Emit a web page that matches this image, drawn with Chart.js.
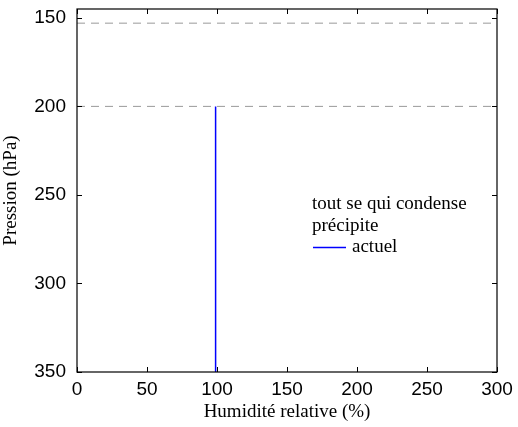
<!DOCTYPE html>
<html><head><meta charset="utf-8">
<script src="https://cdn.jsdelivr.net/npm/chart.js@4/dist/chart.umd.min.js"></script>
<style>html,body{margin:0;padding:0;background:#fff}#w{width:518px;height:427px}</style>
</head><body><div id="w"><canvas id="c" width="518" height="427"></canvas></div>
<script>
const xTicks = [0, 50, 100, 150, 200, 250, 300];
const yTicks = [150, 200, 250, 300, 350];
const actuelX = [99, 99];
const actuelP = [200, 350];
const dashedP = [153, 200];
const dashedX = [0, 300];
const legendLines = ['tout se qui condense', 'précipite'];
const legendLabel = 'actuel';

const datasets = [{
  label: legendLabel,
  data: actuelX.map((x, i) => ({x: x, y: actuelP[i]})),
  showLine: true, borderColor: '#0000ff', borderWidth: 1.5, pointRadius: 0, fill: false
}];
dashedP.forEach(p => datasets.push({
  label: 'd' + p,
  data: dashedX.map(x => ({x: x, y: p})),
  showLine: true, borderColor: '#999999', borderWidth: 1, borderDash: [8, 6], pointRadius: 0, fill: false
}));

const framePlugin = {
  id: 'frame',
  afterDatasetsDraw(chart) {
    const {ctx, chartArea: a, scales: {x, y}} = chart;
    ctx.save();
    ctx.strokeStyle = '#000'; ctx.lineWidth = 1.2;
    ctx.strokeRect(a.left, a.top, a.right - a.left, a.bottom - a.top);
    ctx.lineWidth = 1;
    const L = 5;
    xTicks.forEach(v => {
      const px = Math.round(x.getPixelForValue(v)) + 0.5;
      ctx.beginPath(); ctx.moveTo(px, a.bottom); ctx.lineTo(px, a.bottom - L);
      ctx.moveTo(px, a.top); ctx.lineTo(px, a.top + L); ctx.stroke();
    });
    yTicks.forEach(v => {
      const py = Math.round(y.getPixelForValue(v)) + 0.5;
      ctx.beginPath(); ctx.moveTo(a.left, py); ctx.lineTo(a.left + L, py);
      ctx.moveTo(a.right, py); ctx.lineTo(a.right - L, py); ctx.stroke();
    });
    // legend
    ctx.fillStyle = '#000';
    ctx.font = '19px "Liberation Serif", "Times New Roman", serif';
    ctx.textBaseline = 'middle';
    ctx.textAlign = 'left';
    ctx.fillText(legendLines[0], 312, 204);
    ctx.fillText(legendLines[1], 312, 226);
    ctx.strokeStyle = '#0000ff'; ctx.lineWidth = 1.5;
    ctx.beginPath(); ctx.moveTo(313, 247.5); ctx.lineTo(346, 247.5); ctx.stroke();
    ctx.fillText(legendLabel, 352, 247);
    ctx.restore();
  }
};

new Chart(document.getElementById('c'), {
  type: 'scatter',
  data: {datasets},
  options: {
    responsive: false, animation: false,
    layout: {padding: {top: 9, right: 21, left: 0, bottom: 0}},
    plugins: {legend: {display: false}, tooltip: {enabled: false}},
    scales: {
      x: {
        type: 'linear', min: 0, max: 300,
        afterBuildTicks: s => { s.ticks = xTicks.map(v => ({value: v})); },
        afterFit: s => { s.height = 55; s.paddingLeft = 0; s.paddingRight = 0; },
        grid: {display: false, drawTicks: false}, border: {display: false},
        ticks: {color: '#000', padding: 6, font: {family: '"Liberation Sans", Arial, sans-serif', size: 19}},
        title: {display: true, text: 'Humidité relative (%)', color: '#000', padding: {top: 4, bottom: 4},
          font: {family: '"Liberation Serif", "Times New Roman", serif', size: 19}}
      },
      y: {
        type: 'linear', reverse: true, min: 145, max: 350,
        afterBuildTicks: s => { s.ticks = yTicks.map(v => ({value: v})); },
        afterFit: s => { s.width = 77; s.paddingTop = 0; s.paddingBottom = 0; },
        grid: {display: false, drawTicks: false}, border: {display: false},
        ticks: {color: '#000', padding: 11, font: {family: '"Liberation Sans", Arial, sans-serif', size: 19}},
        title: {display: true, text: 'Pression (hPa)', color: '#000', padding: {top: 0, bottom: 2},
          font: {family: '"Liberation Serif", "Times New Roman", serif', size: 19}}
      }
    }
  },
  plugins: [framePlugin]
});
</script></body></html>
